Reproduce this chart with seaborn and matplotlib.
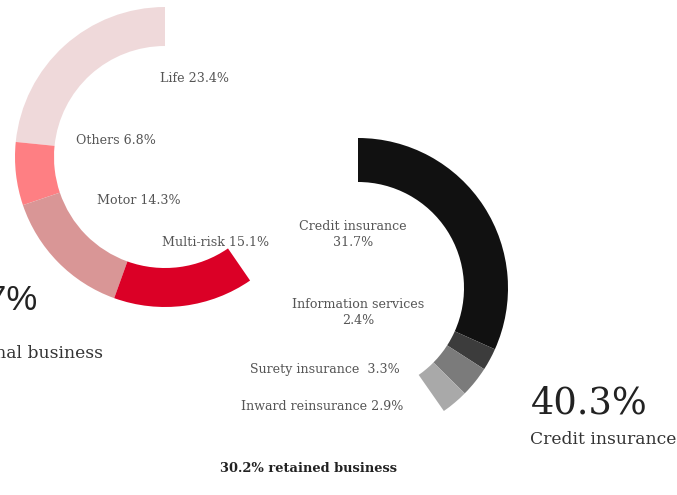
import matplotlib.pyplot as plt
import seaborn as sns
import numpy as np

# Left ring (traditional business), share of total premiums in %
left_labels = ["Life", "Others", "Motor", "Multi-risk"]
left_values = np.array([23.4, 6.8, 14.3, 15.1])
left_colors = ["#efd9da", "#fe7f83", "#d99696", "#db0026"]

# Right ring (credit insurance)
right_labels = ["Credit insurance", "Information services", "Surety insurance", "Inward reinsurance"]
right_values = np.array([31.7, 2.4, 3.3, 2.9])
right_colors = ["#111111", "#3c3c3c", "#7b7b7b", "#a9a9a9"]

traditional_total = 59.7
credit_total = 40.3
retained_share = 30.2

sns.set_style("white")
plt.rcParams["font.family"] = ["DejaVu Serif"]

W, H = 677, 495
fig = plt.figure(figsize=(W / 100, H / 100), dpi=100)
ax = fig.add_axes([0, 0, 1, 1])

def py(y):
    # pixel row -> data y
    return H - y

ax.pie(left_values / 100, colors=left_colors, startangle=90, counterclock=True,
       normalize=False, radius=150, center=(165, py(157)),
       wedgeprops=dict(width=39, linewidth=0), frame=True)
ax.pie(right_values / 100, colors=right_colors, startangle=90, counterclock=False,
       normalize=False, radius=150, center=(358, py(288)),
       wedgeprops=dict(width=44, linewidth=0), frame=True)
ax.set_xlim(0, W)
ax.set_ylim(0, H)
ax.set_aspect("equal")
ax.axis("off")

lab = dict(fontsize=9.1, color="#555555", va="center")
ax.text(160, py(78), f"{left_labels[0]} {left_values[0]}%", ha="left", **lab)
ax.text(76, py(140), f"{left_labels[1]} {left_values[1]}%", ha="left", **lab)
ax.text(97, py(200), f"{left_labels[2]} {left_values[2]}%", ha="left", **lab)
ax.text(162, py(242), f"{left_labels[3]} {left_values[3]}%", ha="left", **lab)

ax.text(353, py(235), f"{right_labels[0]}\n{right_values[0]}%", ha="center",
        linespacing=1.3, **lab)
ax.text(358, py(313), f"{right_labels[1]}\n{right_values[1]}%", ha="center",
        linespacing=1.3, **lab)
ax.text(400, py(369), f"{right_labels[2]}  {right_values[2]}%", ha="right", **lab)
ax.text(403, py(407), f"{right_labels[3]} {right_values[3]}%", ha="right", **lab)

ax.text(648, py(403), f"{credit_total}%", ha="right", va="center",
        fontsize=26.5, color="#222222")
ax.text(530, py(440), "Credit insurance", ha="left", va="center",
        fontsize=12.3, color="#333333")
# the reference image is cropped on the left, so these run off the edge
ax.text(38, py(301), f"{traditional_total}%", ha="right", va="center",
        fontsize=25, color="#222222", family=["Liberation Sans"])
ax.text(103, py(354), "Traditional business", ha="right", va="center",
        fontsize=12.3, color="#333333")
ax.text(308, py(469), f"{retained_share}% retained business", ha="center",
        va="center", fontsize=9.4, fontweight="bold", color="#222222")

fig.savefig("out.png", dpi=100, facecolor="white")
